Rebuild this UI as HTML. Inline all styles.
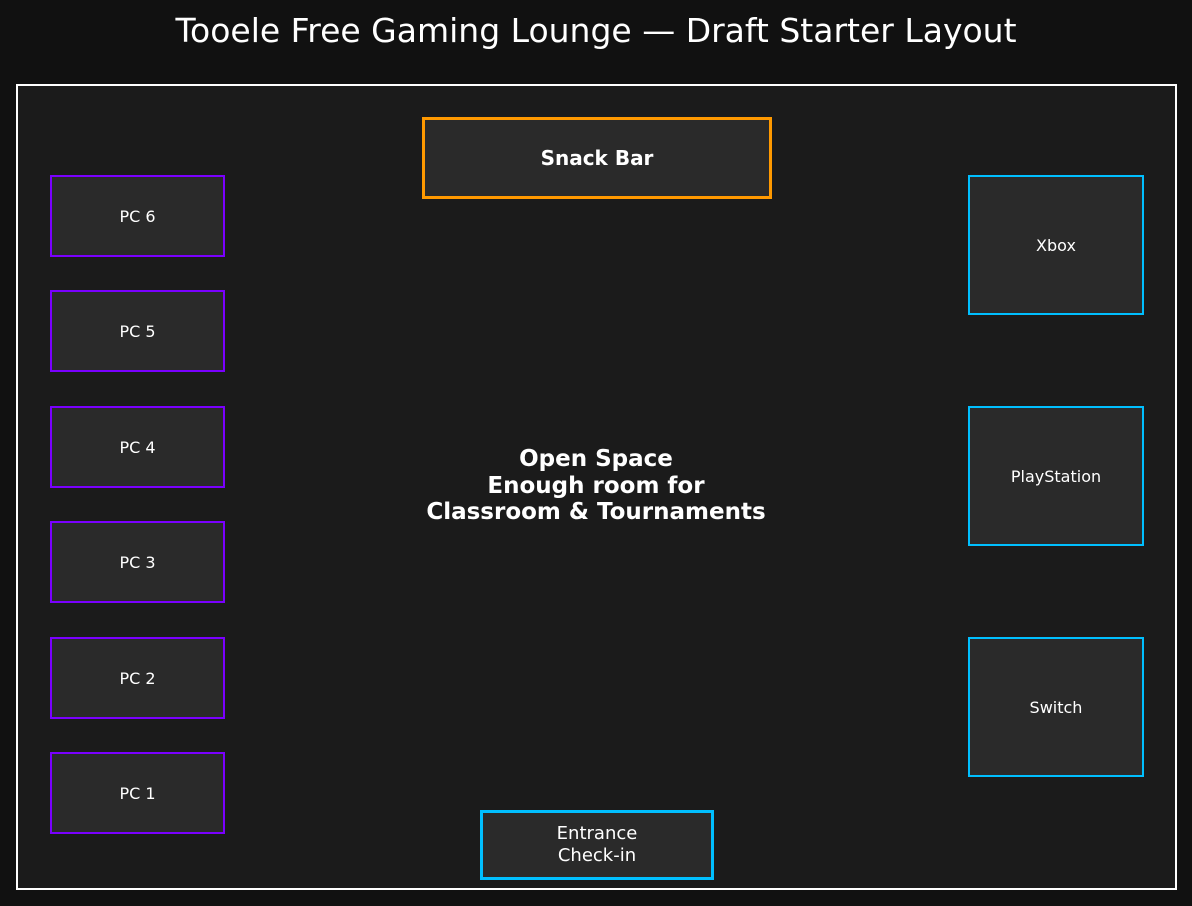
<!DOCTYPE html>
<html><head><meta charset="utf-8"><style>
body{margin:0;width:1192px;height:906px;background:#111111;position:relative;overflow:hidden;font-family:"DejaVu Sans","Liberation Sans",sans-serif;color:#fff}
.b{position:absolute;box-sizing:border-box;background:#2a2a2a;display:flex;align-items:center;justify-content:center;text-align:center}
.pc{left:50px;width:175px;height:82px;border:2px solid #7a00ff;font-size:16px}
.c{left:968px;width:176px;height:140px;border:2px solid #00bfff;font-size:16px}
</style></head><body>
<div style="position:absolute;top:11px;left:0;width:1192px;text-align:center;font-size:33px">Tooele Free Gaming Lounge — Draft Starter Layout</div>
<div style="position:absolute;left:16px;top:84px;width:1161px;height:806px;box-sizing:border-box;border:2px solid #fff;background:#1b1b1b"></div>
<div class="b pc" style="top:175px">PC 6</div>
<div class="b pc" style="top:290px">PC 5</div>
<div class="b pc" style="top:406px">PC 4</div>
<div class="b pc" style="top:521px">PC 3</div>
<div class="b pc" style="top:637px">PC 2</div>
<div class="b pc" style="top:752px">PC 1</div>
<div class="b c" style="top:175px">Xbox</div>
<div class="b c" style="top:406px">PlayStation</div>
<div class="b c" style="top:637px">Switch</div>
<div class="b" style="left:422px;top:117px;width:350px;height:82px;border:3px solid #ff9900;font-weight:bold;font-size:20px">Snack Bar</div>
<div class="b" style="left:480px;top:810px;width:234px;height:70px;border:3px solid #00bfff;font-size:18px;line-height:22px">Entrance<br>Check-in</div>
<div style="position:absolute;left:296px;top:446px;width:600px;text-align:center;font-weight:bold;font-size:23px;line-height:26.5px">Open Space<br>Enough room for<br>Classroom &amp; Tournaments</div>
</body></html>
